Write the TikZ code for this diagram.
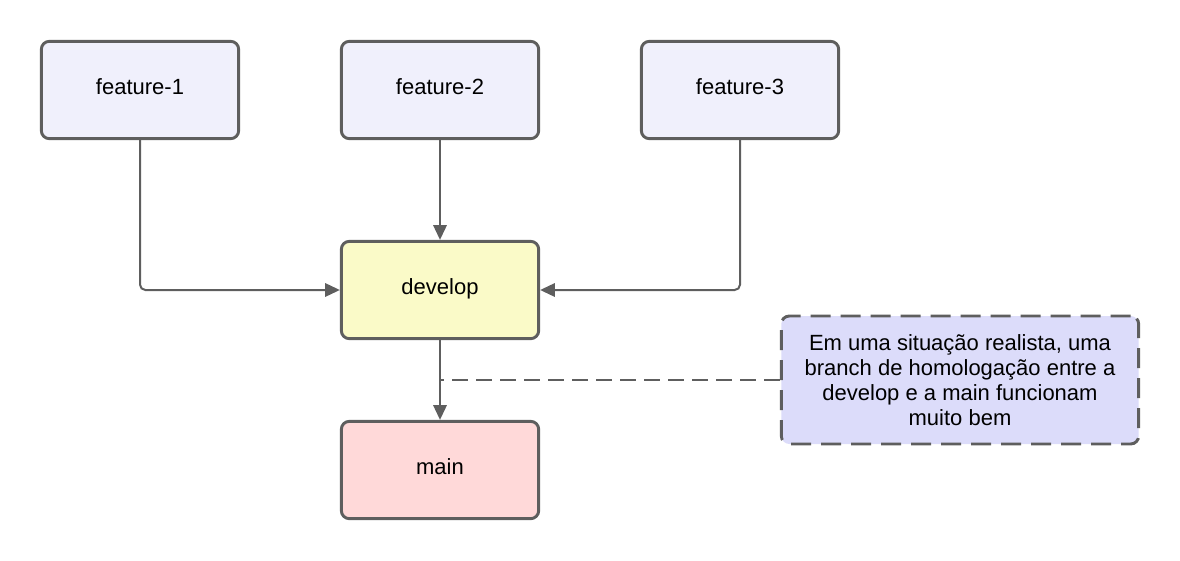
\documentclass[tikz,border=0pt]{standalone}
\usepackage{fontspec}
\setmainfont{Liberation Sans}
\usetikzlibrary{arrows.meta}
\definecolor{edgegray}{HTML}{5E5E5E}
\definecolor{featfill}{HTML}{F0F0FC}
\definecolor{devfill}{HTML}{FAFAC8}
\definecolor{mainfill}{HTML}{FFD9D9}
\definecolor{notefill}{HTML}{DCDCFA}
\begin{document}
\begin{tikzpicture}[x=0.75pt,y=-0.75pt,
  box/.style={draw=edgegray, line width=2.2pt, rounded corners=6pt,
    minimum width=148pt, minimum height=73pt, inner sep=0pt,
    text height=11pt, text depth=3.8pt,
    font=\fontsize{16.5}{18.75}\selectfont, text=black},
  notebox/.style={draw=edgegray, line width=2.2pt, rounded corners=6pt,
    dash pattern=on 15pt off 7.5pt, fill=notefill,
    minimum width=268pt, minimum height=96pt, inner sep=0pt,
    align=center, font=\fontsize{16.5}{18.75}\selectfont, text=black},
  conn/.style={draw=edgegray, line width=1.5pt, rounded corners=4pt,
    -{Triangle[length=11pt,width=10pt]}},
  dashconn/.style={draw=edgegray, line width=1.5pt, dash pattern=on 12pt off 6pt}
]
\useasboundingbox (0,0) rectangle (1180,560);
\node[box, fill=featfill] (f1) at (140,90) {feature-1};
\node[box, fill=featfill] (f2) at (440,90) {feature-2};
\node[box, fill=featfill] (f3) at (740,90) {feature-3};
\node[box, fill=devfill] (dev) at (440,290) {develop};
\node[box, fill=mainfill] (main) at (440,470) {main};
\node[notebox] (note) at (960,380) {Em uma situação realista, uma\\branch de homologação entre a\\develop e a main funcionam\\muito bem};
\coordinate (j) at (note.west -| dev.south);
\draw[conn] (f1.south) |- (dev.west);
\draw[conn] (f3.south) |- (dev.east);
\draw[conn] (f2.south) -- (dev.north);
\draw[conn] (dev.south) -- (main.north);
\draw[dashconn] (note.west) -- (j);
\end{tikzpicture}
\end{document}
